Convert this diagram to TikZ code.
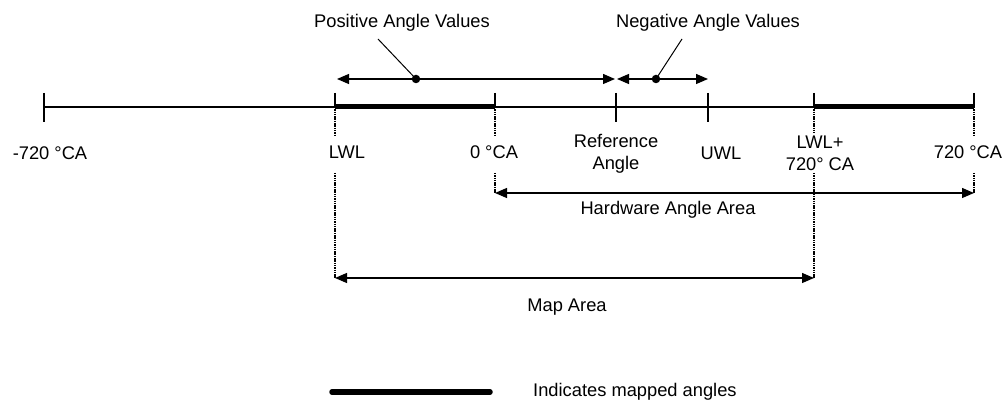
\documentclass[tikz,border=0pt]{standalone}
\usepackage{fontspec}
\setmainfont{Liberation Sans}
\usetikzlibrary{arrows.meta}
\begin{document}
\begin{tikzpicture}[x=1pt,y=-1pt,
  lbl/.style={font=\fontsize{18.3}{22}\selectfont, inner sep=0pt, align=center},
  axisline/.style={line width=1.6pt},
  mapped/.style={line width=5pt},
  tickline/.style={line width=1.1pt},
  guide/.style={line width=1.7pt, dash pattern=on 1.5pt off 0.8pt},
  dimarrow/.style={line width=1.3pt, {Triangle[length=12pt,width=10pt]}-{Triangle[length=12pt,width=10pt]}},
  leadline/.style={line width=1pt},
  dotnode/.style={circle, fill, inner sep=0pt, minimum size=8.5pt},
  legendline/.style={line width=5.5pt, line cap=round}]
\useasboundingbox (0,0) rectangle (1005,403);

% axis points
\coordinate (A) at (44,107);
\coordinate (L) at (335,107);
\coordinate (Z) at (495,107);
\coordinate (R) at (616,107);
\coordinate (U) at (708,107);
\coordinate (L2) at (814,107);
\coordinate (P) at (974,107);

% axis
\draw[axisline] (A) -- (P);
\draw[mapped] (L) -- (Z);
\draw[mapped] (L2) -- (P);

% ticks
\coordinate (At) at (44,93);  \coordinate (Ab) at (44,122);
\coordinate (Lt) at (335,93);
\coordinate (Zt) at (495,93);
\coordinate (Rt) at (616,93); \coordinate (Rb) at (616,122);
\coordinate (Ut) at (708,93); \coordinate (Ub) at (708,122);
\coordinate (L2t) at (814,93);
\coordinate (Pt) at (974,93);
\draw[tickline] (At) -- (Ab);
\draw[tickline] (Lt) -- (L);
\draw[tickline] (Zt) -- (Z);
\draw[tickline] (Rt) -- (Rb);
\draw[tickline] (Ut) -- (Ub);
\draw[tickline] (L2t) -- (L2);
\draw[tickline] (Pt) -- (P);

% labels on axis
\node[lbl] (tA) at (50,153) {-720 °CA};
\node[lbl] (tL) at (347,152) {LWL};
\node[lbl] (tZ) at (494,152) {0 °CA};
\node[lbl] (tR) at (616,154) {Reference\\Angle};
\node[lbl] (tU) at (721,153) {UWL};
\node[lbl] (tL2) at (820,153) {LWL+\\720° CA};
\node[lbl] (tP) at (968,152) {720 °CA};

% dotted guides
\coordinate (Ld1) at (335,135); \coordinate (Ld2) at (335,173); \coordinate (Ld3) at (335,278);
\coordinate (Zd1) at (495,135); \coordinate (Zd2) at (495,173); \coordinate (Zd3) at (495,193);
\coordinate (L2d1) at (814,133); \coordinate (L2d2) at (814,173); \coordinate (L2d3) at (814,278);
\coordinate (Pd1) at (974,135); \coordinate (Pd2) at (974,173); \coordinate (Pd3) at (974,193);
\draw[guide] (L) -- (Ld1);
\draw[guide] (Ld2) -- (Ld3);
\draw[guide] (Z) -- (Zd1);
\draw[guide] (Zd2) -- (Zd3);
\draw[guide] (L2) -- (L2d1);
\draw[guide] (L2d2) -- (L2d3);
\draw[guide] (P) -- (Pd1);
\draw[guide] (Pd2) -- (Pd3);

% hardware angle area
\draw[dimarrow] (Zd3) -- (Pd3);
\node[lbl] (hw) at (668,210) {Hardware Angle Area};

% map area
\draw[dimarrow] (Ld3) -- (L2d3);
\node[lbl] (map) at (567,307) {Map Area};

% positive / negative angle values
\coordinate (posL) at (337,79);
\coordinate (posR) at (615,79);
\coordinate (negL) at (617,79);
\coordinate (negR) at (708,79);
\draw[dimarrow] (posL) -- (posR);
\draw[dimarrow] (negL) -- (negR);
\node[dotnode] (posDot) at (416,79) {};
\node[dotnode] (negDot) at (656,79) {};
\node[lbl] (posT) at (402,23) {Positive Angle Values};
\node[lbl] (negT) at (708,23) {Negative Angle Values};
\coordinate (posLead) at (378,39);
\coordinate (negLead) at (682,39);
\draw[leadline] (posLead) -- (posDot.center);
\draw[leadline] (negLead) -- (negDot.center);

% legend
\coordinate (legA) at (332,392);
\coordinate (legB) at (490,392);
\draw[legendline] (legA) -- (legB);
\node[lbl, anchor=west] (legT) at (533,392) {Indicates mapped angles};
\end{tikzpicture}
\end{document}
